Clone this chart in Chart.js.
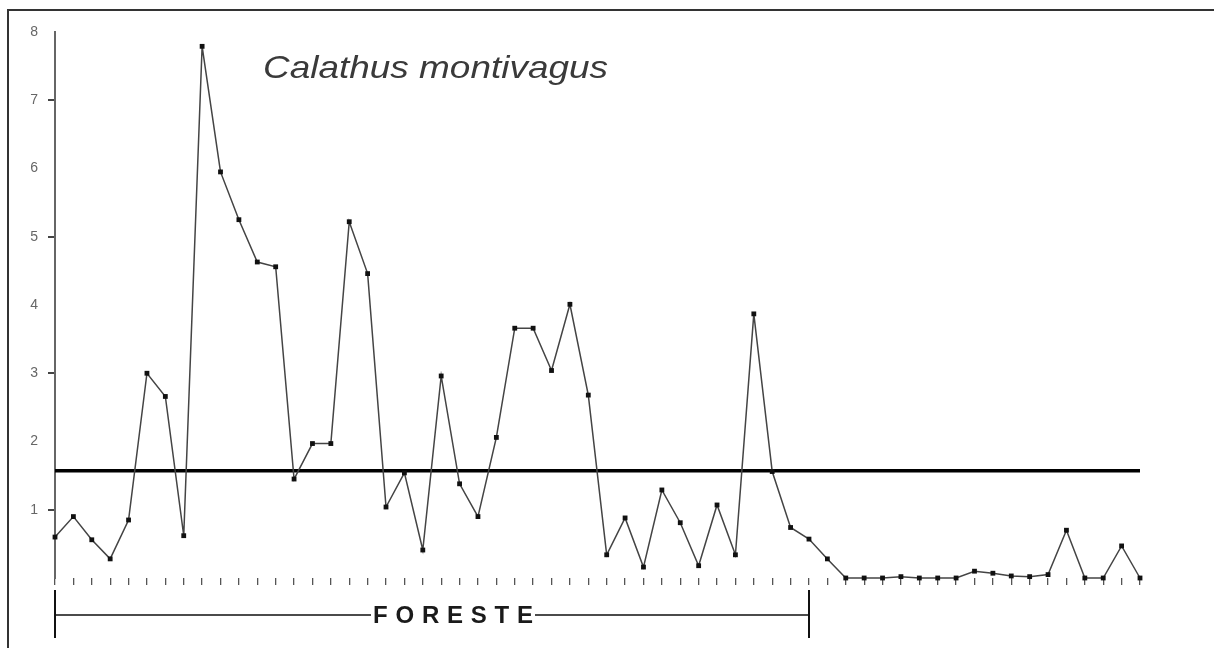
<!DOCTYPE html>
<html>
<head>
<meta charset="utf-8">
<script src="https://cdn.jsdelivr.net/npm/chart.js@4/dist/chart.umd.min.js"></script>
<style>
  html, body { margin: 0; padding: 0; background: #fff; }
  #wrap { width: 1214px; height: 648px; position: relative; }
</style>
</head>
<body>
<div id="wrap"><canvas id="c" width="1214" height="648"></canvas></div>
<script>
const chartTitle = 'Calathus montivagus';
const categories = ['1','2','3','4','5','6','7','8','9','10','11','12','13','14','15','16','17','18','19','20',
  '21','22','23','24','25','26','27','28','29','30','31','32','33','34','35','36','37','38','39','40',
  '41','42','43','44','45','46','47','48','49','50','51','52','53','54','55','56','57','58','59','60'];
const densityValues = [0.6, 0.9, 0.56, 0.28, 0.85, 3.0, 2.66, 0.62, 7.79, 5.95,
  5.25, 4.63, 4.56, 1.45, 1.97, 1.97, 5.22, 4.46, 1.04, 1.54,
  0.41, 2.96, 1.38, 0.9, 2.06, 3.66, 3.66, 3.04, 4.01, 2.68,
  0.34, 0.88, 0.16, 1.29, 0.81, 0.18, 1.07, 0.34, 3.87, 1.56,
  0.74, 0.57, 0.28, 0, 0, 0, 0.02, 0, 0, 0,
  0.1, 0.07, 0.03, 0.02, 0.05, 0.7, 0, 0, 0.47, 0];
const meanValue = 1.57;
const yTickValues = [0, 1, 2, 3, 4, 5, 6, 7, 8];
const habitatLabel = 'FORESTE';
const habitatStartIndex = 0;
const habitatEndIndex = 41;

const framePlugin = {
  id: 'frame',
  beforeDraw(chart) {
    const ctx = chart.ctx;
    ctx.save();
    ctx.strokeStyle = '#333';
    ctx.lineWidth = 2;
    ctx.beginPath();
    ctx.moveTo(8, 648);
    ctx.lineTo(8, 10);
    ctx.lineTo(1214, 10);
    ctx.stroke();
    ctx.restore();
  }
};

const titlePlugin = {
  id: 'speciesTitle',
  afterDraw(chart) {
    const ctx = chart.ctx;
    ctx.save();
    ctx.font = 'italic 32px "Liberation Sans", Arial, sans-serif';
    ctx.fillStyle = '#3a3a3a';
    ctx.textBaseline = 'alphabetic';
    const w = ctx.measureText(chartTitle).width;
    const target = 345;
    ctx.translate(263, 78);
    ctx.scale(target / w, 1);
    ctx.fillText(chartTitle, 0, 0);
    ctx.restore();
  }
};

const bracketPlugin = {
  id: 'habitatBracket',
  afterDraw(chart) {
    const ctx = chart.ctx;
    const xs = chart.scales.x;
    const x0 = Math.round(xs.getPixelForValue(habitatStartIndex));
    const x1 = Math.round(xs.getPixelForValue(habitatEndIndex));
    const yMid = 615;
    ctx.save();
    ctx.strokeStyle = '#111';
    ctx.lineWidth = 2;
    ctx.beginPath();
    ctx.moveTo(x0, 590); ctx.lineTo(x0, 638);
    ctx.moveTo(x1, 590); ctx.lineTo(x1, 638);
    ctx.stroke();
    ctx.font = 'bold 24px "Liberation Sans", Arial, sans-serif';
    ctx.fillStyle = '#1a1a1a';
    ctx.textBaseline = 'middle';
    const letters = habitatLabel.split('');
    const tStart = 373;
    const tWidth = 160;
    let lettersW = 0;
    letters.forEach((l) => { lettersW += ctx.measureText(l).width; });
    const spacing = (tWidth - lettersW) / (letters.length - 1);
    let x = tStart;
    letters.forEach((l) => { ctx.fillText(l, x, yMid + 1); x += ctx.measureText(l).width + spacing; });
    const tEnd = tStart + tWidth;
    ctx.lineWidth = 1.5;
    ctx.beginPath();
    ctx.moveTo(x0, yMid); ctx.lineTo(tStart - 2, yMid);
    ctx.moveTo(tEnd + 2, yMid); ctx.lineTo(x1, yMid);
    ctx.stroke();
    ctx.restore();
  }
};

new Chart(document.getElementById('c'), {
  type: 'line',
  data: {
    labels: categories,
    datasets: [
      {
        label: 'density',
        data: densityValues,
        borderColor: '#444',
        borderWidth: 1.5,
        pointStyle: 'rect',
        pointRadius: 3.4,
        pointBackgroundColor: '#111',
        pointBorderColor: '#111',
        pointBorderWidth: 0,
        tension: 0,
        clip: false
      },
      {
        label: 'mean',
        data: [{ x: categories[0], y: meanValue }, { x: categories[categories.length - 1], y: meanValue }],
        borderColor: '#000',
        borderWidth: 3.5,
        pointRadius: 0,
        tension: 0,
        clip: false
      }
    ]
  },
  options: {
    responsive: false,
    animation: false,
    devicePixelRatio: 1,
    layout: { padding: { left: 0, right: 74, top: 32, bottom: 0 } },
    plugins: { legend: { display: false }, title: { display: false }, tooltip: { enabled: false } },
    scales: {
      x: {
        type: 'category',
        offset: false,
        border: { display: false },
        grid: {
          drawOnChartArea: false,
          drawTicks: true,
          tickLength: 7,
          color: '#555',
          lineWidth: 1.3
        },
        ticks: { display: false, autoSkip: false, maxRotation: 0 },
        afterFit(scale) { scale.height = 70; }
      },
      y: {
        min: 0,
        max: 8,
        border: { display: true, color: '#666', width: 2 },
        grid: {
          drawOnChartArea: false,
          drawTicks: true,
          tickLength: 7,
          tickColor: (ctx) => (ctx.tick && ctx.tick.value % 2 === 1) ? '#444' : 'rgba(0,0,0,0)',
          lineWidth: 2
        },
        afterBuildTicks(scale) { scale.ticks = yTickValues.map(v => ({ value: v })); },
        ticks: {
          color: '#666',
          font: { family: '"Liberation Sans", Arial, sans-serif', size: 14 },
          padding: 10,
          callback: (v) => v === 0 ? '' : String(v)
        },
        afterFit(scale) { scale.width = 55; }
      }
    }
  },
  plugins: [framePlugin, titlePlugin, bracketPlugin]
});
</script>
</body>
</html>
